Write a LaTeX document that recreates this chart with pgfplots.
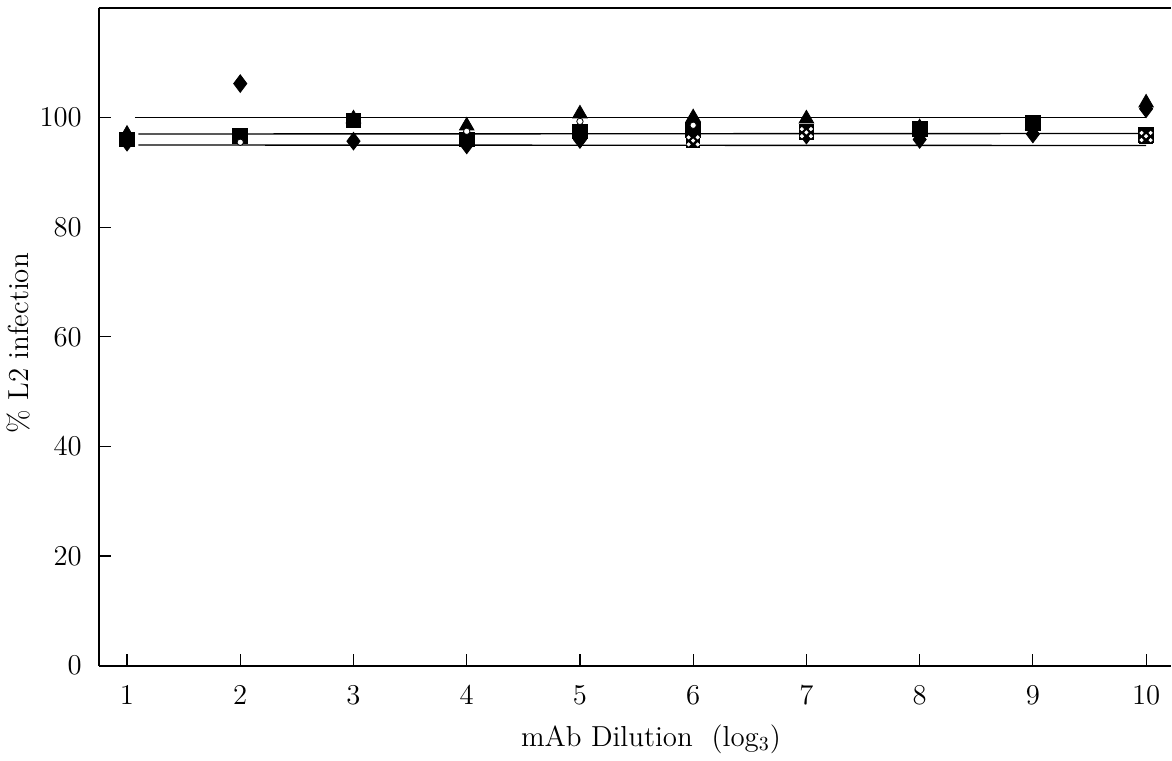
\documentclass[border=0pt]{standalone}
\usepackage{pgfplots}
\pgfplotsset{compat=1.18}

\begin{document}
\begin{tikzpicture}
\begin{axis}[
    scale only axis,
    width=538pt, height=330pt,
    xmin=0.75, xmax=10.22,
    ymin=0, ymax=120,
    xtick={1,2,...,10},
    ytick={0,20,40,60,80,100},
    axis x line*=bottom, axis y line*=left,
    tick align=inside,
    major tick length=6pt,
    axis line style={-, line width=1pt},
    tick style={black, line width=0.6pt},
    tick label style={font=\fontsize{14}{16}\selectfont},
    xticklabel style={yshift=-6.5pt},
    yticklabel style={xshift=-5pt},
    xlabel={mAb Dilution~~(log$_3$)},
    ylabel={\% L2 infection},
    xlabel style={font=\fontsize{14.5}{17}\selectfont, at={(axis description cs:0.515,-0.112)}, anchor=center},
    ylabel style={font=\fontsize{14.5}{17}\selectfont, at={(axis description cs:-0.075,0.49)}, anchor=center},
    clip=false,
]
\draw[line width=0.7pt] (rel axis cs:0,1) -- (rel axis cs:1,1);
% fitted lines
\addplot[black, line width=0.7pt] coordinates {(1.07,100) (10,100)};
\addplot[black, line width=0.7pt] coordinates {(1.1,97) (10,97.1)};
\addplot[black, line width=0.7pt] coordinates {(1.1,95) (10,94.9)};
% filled squares
\addplot[only marks, mark=square*, mark size=3.7pt, black] coordinates {
  (1,96) (2,96.6) (3,99.5) (4,96) (5,97.5) (6,97.8) (7,97.5) (8,98) (9,99) (10,96.8)};
% diamonds
\addplot[only marks, mark=diamond*, mark size=4.4pt, black] coordinates {
  (1,95.5) (2,106.2) (3,95.7) (4,95) (5,96) (6,96.5) (7,96.8) (8,96) (9,97) (10,101.6)};
% triangles
\addplot[only marks, mark=triangle*, mark size=4.2pt, black] coordinates {
  (1,97) (3,99.8) (4,98.5) (5,100.7) (6,100) (7,99.8) (8,98.2) (9,98.6) (10,102.7)};
% open circles
\addplot[only marks, mark=*, mark size=1.6pt, draw=black, fill=white] coordinates {
  (2,95.5) (4,97.5) (5,99.3) (6,98.6)};
% dotted squares
\addplot[only marks, mark=square*, mark size=3.3pt, black] coordinates {
  (6,95.7) (7,97.2) (10,96.5)};
\addplot[only marks, mark=*, mark size=0.8pt, draw=white, fill=white] coordinates {
  (5.96,95.1) (6.04,95.1) (6,95.8) (5.96,96.4) (6.04,96.4)
  (6.96,96.6) (7.04,96.6) (7,97.3) (6.96,97.9) (7.04,97.9)
  (9.96,95.9) (10.04,95.9) (10,96.6) (9.96,97.2) (10.04,97.2)};
\end{axis}
\path (current axis.north west) ++(0,4pt);
\end{tikzpicture}
\end{document}
